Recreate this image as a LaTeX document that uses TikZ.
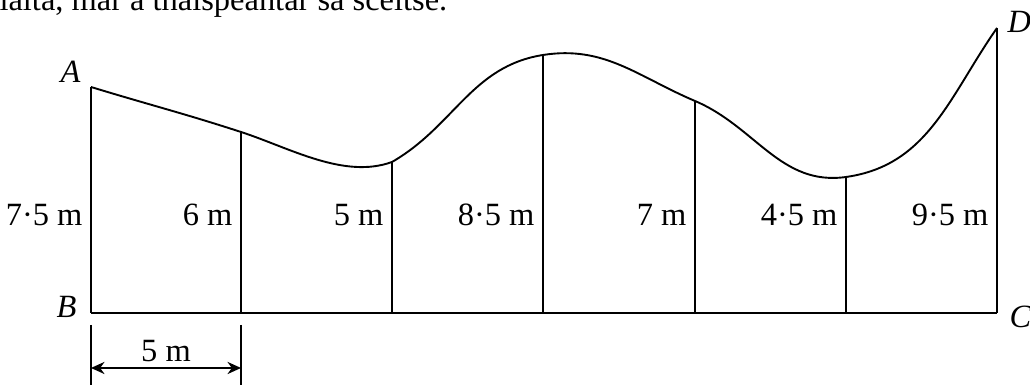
\documentclass[tikz,border=0pt]{standalone}
\usepackage{fontspec}
\setmainfont{Liberation Serif}
\usetikzlibrary{arrows.meta}

\begin{document}
\begin{tikzpicture}[
    x=0.013cm, y=0.013cm,
    >={Stealth[length=5pt, width=4.5pt]},
    wall/.style={line width=0.7pt},
    height/.style={anchor=base east, inner sep=0pt},
    corner/.style={inner sep=0pt, font=\fontsize{12}{14}\selectfont\itshape},
    every node/.style={font=\fontsize{12}{14}\selectfont}
]

\useasboundingbox (0,0) rectangle (1030,385);
\clip (0,0) rectangle (1030,385);

% line of text cut off above the sketch
\node[anchor=base west, inner sep=0pt] (txt) at (-1,374) {ialta, mar a thaispeántar sa sceitse.};

% ground line and the tops of the posts
\coordinate (B) at (91,72);
\coordinate (C) at (997,72);
\coordinate (A) at (91,298);
\coordinate (t1) at (241,253);
\coordinate (t2) at (392,223);
\coordinate (t3) at (543,330);
\coordinate (t4) at (695,284);
\coordinate (t5) at (846,208);
\coordinate (D) at (997,357);

\draw[wall] (B) -- (C);

% posts with their heights
\foreach \x/\top/\h [count=\i] in {91/A/7·5, 241/t1/6, 392/t2/5, 543/t3/8·5,
                                    695/t4/7, 846/t5/4·5, 997/D/9·5} {
  \draw[wall] (\x,72) -- (\top);
  \node[height] (h\i) at (\x-8,159) {\h\ m};
}

% the top edge
\draw[wall] (A) to[out=-17, in=162] (t1)
                to[out=-18, in=200, looseness=0.85] (t2)
                to[out=30, in=189] (t3)
                to[out=9, in=157] (t4)
                to[out=-23, in=188] (t5)
                to[out=8, in=235] (D);

% corner letters
\node[corner, anchor=base east] (labA) at (81,302) {A};
\node[corner, anchor=base east] (labB) at (77,67) {B};
\node[corner, anchor=base west] (labC) at (1009,57) {C};
\node[corner, anchor=base west] (labD) at (1007,352) {D};

% width of one strip
\coordinate (e1) at (91,60);
\coordinate (e2) at (241,60);
\draw[line width=0.6pt] (e1) -- (91,0);
\draw[line width=0.6pt] (e2) -- (241,0);
\draw[<->, line width=0.7pt] (91,17) -- node[above, inner sep=2pt] (w) {5 m} (241,17);

\end{tikzpicture}
\end{document}
